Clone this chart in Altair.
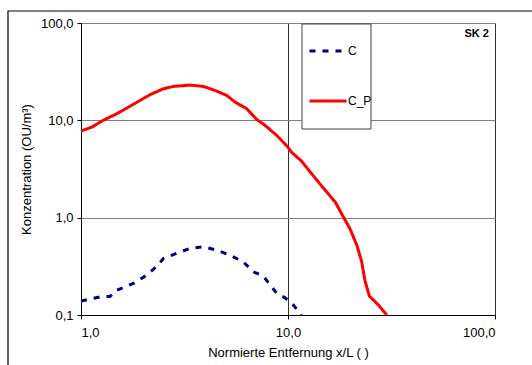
import altair as alt
import pandas as pd

# C_P series (solid red)
cp_x = [1.0, 1.13, 1.28, 1.49, 1.79, 2.15, 2.50, 2.79, 3.36, 3.90, 4.52, 5.06, 5.55, 6.31, 7.06, 7.74, 8.82, 10.0, 10.4, 11.6, 12.8, 14.8, 16.9, 18.5, 19.9, 21.5, 22.7, 23.5, 24.7, 27.3, 30.0]
cp_y = [7.77, 8.53, 10.0, 11.7, 14.6, 18.3, 21.1, 22.3, 23.0, 22.3, 20.0, 18.0, 15.4, 13.2, 10.2, 8.9, 7.0, 5.3, 4.7, 3.83, 2.95, 2.02, 1.45, 1.02, 0.774, 0.522, 0.352, 0.229, 0.157, 0.127, 0.1]

# C series (dashed navy)
c_x = [1.0, 1.24, 1.38, 1.49, 1.79, 2.08, 2.36, 2.50, 2.90, 3.36, 3.90, 4.52, 5.24, 6.08, 6.80, 7.60, 8.82, 9.68, 10.6, 11.6]
c_y = [0.139, 0.154, 0.155, 0.180, 0.211, 0.257, 0.326, 0.381, 0.430, 0.483, 0.502, 0.464, 0.412, 0.352, 0.278, 0.251, 0.167, 0.150, 0.127, 0.1]

series_names = ["C", "C_P"]
series_colors = ["#000080", "#FF0000"]
x_ticks = [1, 10, 100]
y_ticks = [0.1, 1, 10, 100]

df = pd.concat([
    pd.DataFrame({"x": c_x, "y": c_y, "series": "C", "order": range(len(c_x))}),
    pd.DataFrame({"x": cp_x, "y": cp_y, "series": "C_P", "order": range(len(cp_x))}),
])

FONT = "Liberation Sans"
label_expr = "replace(format(datum.value, '.1f'), '.', ',')"

W, H = 414, 292

xscale = alt.Scale(type="log", domain=[1, 100], nice=False)
yscale = alt.Scale(type="log", domain=[0.1, 100], nice=False)

axis_common = dict(labelFont=FONT, titleFont=FONT, labelFontSize=13, titleFontSize=13,
                   labelColor="#000000", titleColor="#000000", titleFontWeight="normal",
                   labelFontWeight="normal", domainColor="#000000", tickColor="#000000",
                   tickSize=4, gridWidth=1)

legend_common = dict(title=None, orient="none", legendX=227, legendY=8, labelFont=FONT,
                     labelFontSize=12, labelColor="#000000", symbolType="stroke",
                     symbolSize=1369, symbolStrokeWidth=3, rowPadding=24, labelOffset=0,
                     padding=0)

lines = alt.Chart(df).mark_line(strokeWidth=3, clip=True).encode(
    x=alt.X("x:Q", scale=xscale,
            axis=alt.Axis(values=x_ticks, labelExpr=label_expr, title="Normierte Entfernung x/L ( )",
                          grid=True, gridColor="#303030", labelPadding=7, titlePadding=7,
                          **axis_common)),
    y=alt.Y("y:Q", scale=yscale,
            axis=alt.Axis(values=y_ticks, labelExpr=label_expr, title="Konzentration (OU/m³)",
                          grid=True, gridColor="#808080", labelPadding=4, titlePadding=7,
                          **axis_common)),
    color=alt.Color("series:N", scale=alt.Scale(domain=series_names, range=series_colors),
                    legend=alt.Legend(**legend_common)),
    strokeDash=alt.StrokeDash("series:N", scale=alt.Scale(domain=series_names, range=[[6, 7], [1, 0]]),
                              legend=alt.Legend(**legend_common)),
    order="order:Q",
)

box_df = pd.DataFrame({"k": [0]})
legend_box = alt.Chart(box_df).mark_rect(fill="white", stroke="#404040", strokeWidth=1).encode(
    x=alt.value(221), x2=alt.value(290), y=alt.value(1), y2=alt.value(106)
)

frame = alt.Chart(box_df).mark_rect(fill=None, stroke="#000000", strokeWidth=1.2, clip=False).encode(
    x=alt.value(-73), x2=alt.value(600), y=alt.value(-12), y2=alt.value(400)
)

sk_label = alt.Chart(pd.DataFrame({"t": ["SK 2"]})).mark_text(
    font=FONT, fontSize=11, fontWeight="bold", align="right", baseline="middle", color="#000000"
).encode(x=alt.value(408), y=alt.value(11), text="t:N")

chart = alt.layer(frame, legend_box, lines, sk_label).properties(
    width=W, height=H,
    padding={"left": 81, "top": 23, "right": 37, "bottom": 50},
    autosize=alt.AutoSizeParams(type="none"),
).configure_view(
    stroke="#808080", strokeWidth=1
).configure(background="white")

chart.save("out.html", embed_options={"renderer": "svg", "actions": False})
